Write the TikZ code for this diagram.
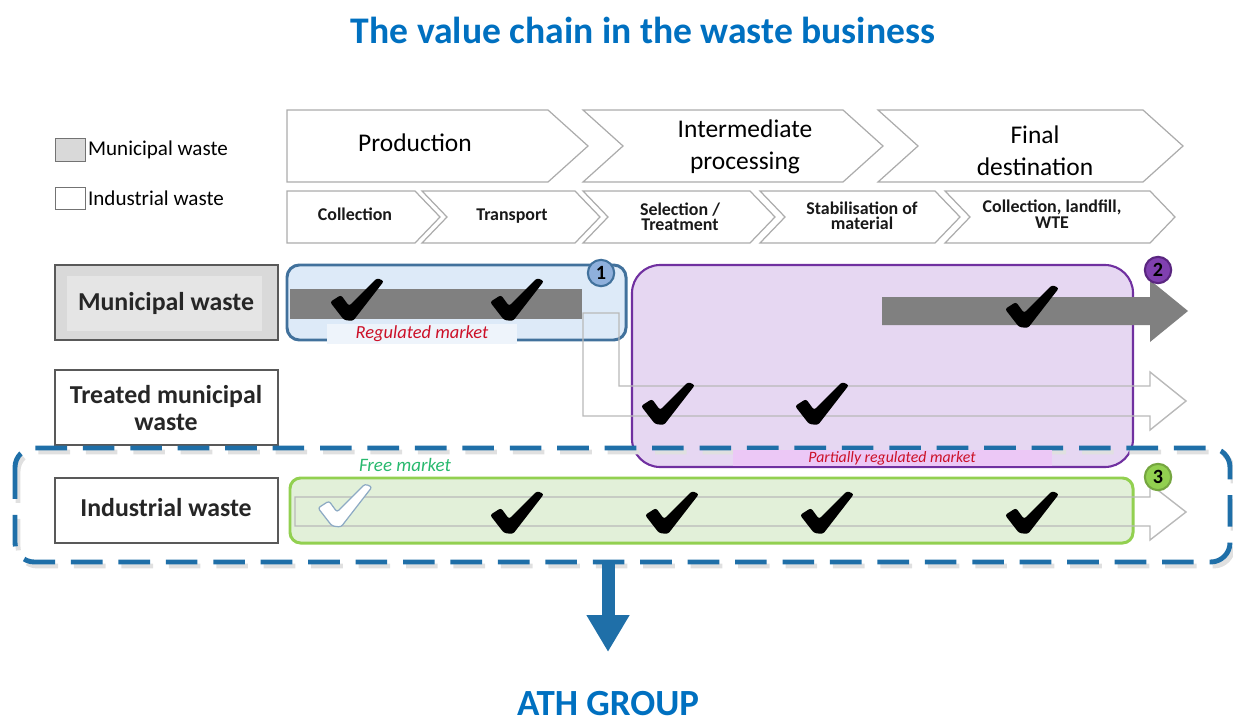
\documentclass[tikz,border=0pt]{standalone}
\usepackage{fontspec}
\setmainfont{Carlito}
\usetikzlibrary{arrows.meta}

\definecolor{titleblue}{RGB}{0,112,192}
\definecolor{athblue}{RGB}{31,111,168}
\definecolor{munfill}{RGB}{217,217,217}
\definecolor{regblue}{RGB}{65,113,156}
\definecolor{regbluefill}{RGB}{221,234,248}
\definecolor{badgeblue}{RGB}{143,176,220}
\definecolor{regpurple}{RGB}{112,48,160}
\definecolor{regpurplefill}{RGB}{230,215,242}
\definecolor{badgepurple}{RGB}{128,64,176}
\definecolor{reggreen}{RGB}{146,208,80}
\definecolor{reggreenfill}{RGB}{226,240,217}
\definecolor{flowgray}{RGB}{185,185,185}
\definecolor{bargray}{RGB}{128,128,128}
\definecolor{marketred}{RGB}{204,16,40}
\definecolor{marketgreen}{RGB}{40,185,110}
\definecolor{stripfill}{RGB}{236,200,246}

\tikzset{
  chevron/.style={draw=gray!65, fill=white, line width=0.7pt},
  rowlabel/.style={draw=black!65, line width=1pt},
  badge/.style={circle, draw, line width=1.2pt, minimum size=15pt, inner sep=0pt, font=\bfseries\fontsize{11.5}{12}\selectfont},
  market/.style={font=\itshape\fontsize{9}{9.5}\selectfont, inner sep=1pt},
  phase/.style={align=center, font=\fontsize{14.5}{18}\selectfont, text=black},
  stage/.style={align=center, font=\bfseries\fontsize{10.2}{8.8}\selectfont, text=black!90},
  rowtext/.style={align=center, font=\bfseries\fontsize{14.7}{15.5}\selectfont, text=black!85},
  chk/.pic={\path[fill=black, rounded corners=1.4pt]
    (-27,2) -- (-16,-5) -- (-8,6) -- (20,-22) -- (27,-19) -- (-4,21) -- (-13,20) -- cycle;},
  chkwhite/.pic={\path[fill=white, draw=regblue!60, line width=0.7pt, rounded corners=1.4pt]
    (-27,2) -- (-16,-5) -- (-8,6) -- (20,-22) -- (27,-19) -- (-4,21) -- (-13,20) -- cycle;}
}

% left, notch depth, body end, tip, top, bottom
\newcommand\chevbox[6]{%
  \draw[chevron] (#1,#5) -- (#3,#5) -- (#4,{(#5+#6)/2}) -- (#3,#6) -- (#1,#6)
    -- ({#1+#2},{(#5+#6)/2}) -- cycle;}

\begin{document}
\begin{tikzpicture}[x=0.02cm, y=-0.02cm]
\useasboundingbox (0,0) rectangle (1233,723);

\node[font=\bfseries\fontsize{21.4}{24}\selectfont, text=titleblue] (title) at (643,30) {The value chain in the waste business};

% legend
\draw[fill=munfill, draw=black!55] (55,138) rectangle (85,161);
\node[anchor=west, font=\fontsize{12}{13}\selectfont, inner sep=1pt] (leg-mun) at (86,150) {Municipal waste};
\draw[fill=white, draw=black!55] (55,187) rectangle (85,209);
\node[anchor=west, font=\fontsize{12}{13}\selectfont, inner sep=1pt] (leg-ind) at (86,198) {Industrial waste};

% phases
\chevbox{287}{0}{548}{588}{110}{182}
\chevbox{583}{40}{843}{883}{110}{182}
\chevbox{878}{40}{1143}{1183}{110}{182}
\node[phase] (production) at (415,143) {Production};
\node[phase] (intermediate) at (745,147) {Intermediate\\processing};
\node[phase] (final) at (1035,151) {Final\\destination};

% stages
\chevbox{287}{0}{415}{440}{191}{243}
\chevbox{422}{25}{575}{600}{191}{243}
\chevbox{583}{25}{750}{775}{191}{243}
\chevbox{760}{25}{935}{960}{191}{243}
\chevbox{945}{25}{1150}{1175}{191}{243}
\node[stage] (collection) at (355,214) {Collection};
\node[stage] (transport) at (512,216) {Transport};
\node[stage] (selection) at (680,217) {Selection /\\Treatment};
\node[stage] (stabilisation) at (862,216) {Stabilisation of\\material};
\node[stage] (landfill) at (1052,214) {Collection, landfill,\\WTE};

% row labels
\draw[rowlabel, fill=munfill] (55,265) rectangle (278,340);
\fill[black!10] (67,276) rectangle (262,331);
\node[rowtext] (row-mun) at (166,303) {Municipal waste};
\draw[rowlabel, fill=white] (55,370) rectangle (278,445);
\node[rowtext] (row-treated) at (166,408) {Treated municipal\\waste};
\draw[rowlabel, fill=white] (55,478) rectangle (278,543);
\node[rowtext] (row-ind) at (166,508) {Industrial waste};

% region 1
\draw[regblue, fill=regbluefill, line width=1.7pt, rounded corners=7pt] (287,265) rectangle (626,340);
\fill[bargray] (290,289) rectangle (582,319);

% region 2
\draw[regpurple, fill=regpurplefill, line width=1.2pt, rounded corners=16pt] (632,265) rectangle (1133,467);
\draw[flowgray, line width=0.8pt] (583,313) -- (583,416) -- (1150,416) -- (1150,430) -- (1186,401)
  -- (1150,372) -- (1150,386) -- (619,386) -- (619,313) -- cycle;
\fill[bargray] (882,297) -- (1150,297) -- (1150,280) -- (1188,311) -- (1150,342) -- (1150,325) -- (882,325) -- cycle;

% ATH group frame
\draw[black!12, line width=2.8pt, dash pattern=on 18pt off 9pt, rounded corners=11pt] (18,452) rectangle (1233,566);
\draw[athblue, line width=2.8pt, dash pattern=on 18pt off 9pt, rounded corners=11pt] (15,448) rectangle (1230,562);
\fill[stripfill] (733,450) rectangle (1052,466);
\node[market, text=marketred] (partial) at (892,458) {Partially regulated market};

% region 3
\draw[reggreen, fill=reggreenfill, line width=1.7pt, rounded corners=6pt] (290,478) rectangle (1133,543);
\draw[flowgray, line width=0.8pt] (295,497) -- (1150,497) -- (1150,484) -- (1186,512) -- (1150,540)
  -- (1150,526) -- (295,526) -- cycle;
\node[market, text=marketgreen, font=\itshape\fontsize{10.8}{11}\selectfont] (free) at (405,465) {Free market};

\node[market, text=marketred, fill=regbluefill!50!white, minimum width=108pt, font=\itshape\fontsize{10.5}{10.5}\selectfont] (regulated) at (422,334) {Regulated market};

% badges
\node[badge, fill=badgeblue, draw=regblue] (b1) at (601,273) {1};
\node[badge, fill=badgepurple, draw=regpurple!80!black] (b2) at (1158,270) {2};
\node[badge, fill=reggreen, draw=reggreen!80!black] (b3) at (1158,477) {3};

% ticks
\pic at (357,300) {chk};
\pic at (517,300) {chk};
\pic at (1032,307) {chk};
\pic at (668,404) {chk};
\pic at (822,404) {chk};
\pic at (345,506) {chkwhite};
\pic at (517,513) {chk};
\pic at (672,513) {chk};
\pic at (827,513) {chk};
\pic at (1032,513) {chk};

% down to the group
\coordinate (ath-top) at (608,562);
\coordinate (ath-tip) at (608,652);
\node[font=\bfseries\fontsize{21}{24}\selectfont, text=titleblue, inner sep=0pt] (ath) at (608,704) {ATH GROUP};
\draw[athblue, line width=7.4pt, -{Triangle[length=21pt, width=23pt]}] (ath-top) -- (ath-tip);
\end{tikzpicture}
\end{document}
